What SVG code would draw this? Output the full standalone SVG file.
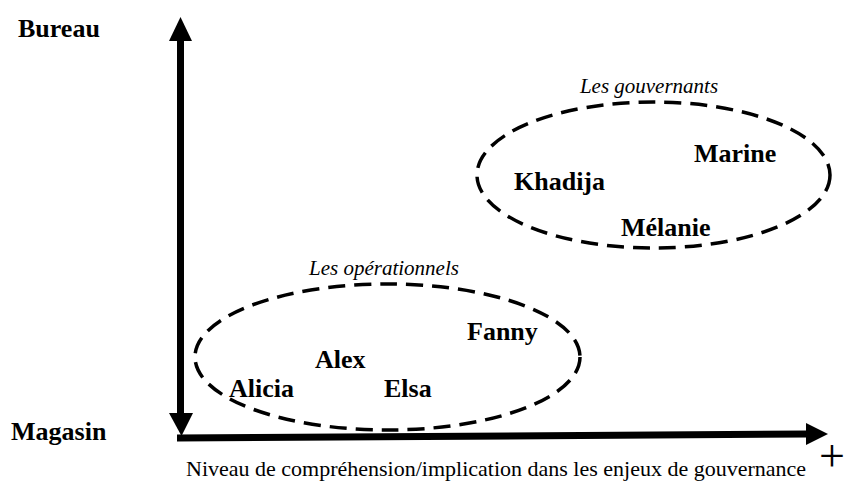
<svg xmlns="http://www.w3.org/2000/svg" width="847" height="482" viewBox="0 0 847 482">
<style>
.ax{stroke:#000;stroke-width:7;fill:none}
.head{fill:#000}
.grp{fill:none;stroke:#000;stroke-width:3.5;stroke-dasharray:17 9}
.lbl{font-family:"Liberation Serif","Times New Roman",serif;font-weight:bold;font-size:26px;fill:#000}
.cap{font-family:"Liberation Serif","Times New Roman",serif;font-style:italic;font-size:21px;fill:#000}
.axt{font-family:"Liberation Serif","Times New Roman",serif;font-size:22px;fill:#000}
.plus{font-family:"Liberation Serif","Times New Roman",serif;font-size:46px;fill:#000}
</style>
<rect width="847" height="482" fill="#fff"/>
<g id="connectors">
  <line class="ax" x1="180.5" y1="38" x2="180.5" y2="416"/>
  <polygon class="head" points="180.5,17 169,41 192,41"/>
  <polygon class="head" points="181.5,436 169,413 193,413"/>
  <line class="ax" x1="177" y1="438" x2="808" y2="434"/>
  <polygon class="head" points="828,434 806,423 806,445"/>
</g>
<g id="axis-labels">
  <text class="lbl" x="18" y="37">Bureau</text>
  <text class="lbl" x="11" y="440">Magasin</text>
  <text class="axt" x="186" y="476">Niveau de compréhension/implication dans les enjeux de gouvernance</text>
  <text class="plus" x="832" y="471" text-anchor="middle">+</text>
</g>
<g id="gouvernants">
  <ellipse class="grp" cx="653.5" cy="175" rx="176.5" ry="73"/>
  <text class="cap" x="649" y="93" text-anchor="middle">Les gouvernants</text>
</g>
<g id="operationnels">
  <ellipse class="grp" cx="387.5" cy="357" rx="192.5" ry="73"/>
  <text class="cap" x="384" y="275" text-anchor="middle">Les opérationnels</text>
</g>
<g id="marine"><text class="lbl" x="694" y="162">Marine</text></g>
<g id="khadija"><text class="lbl" x="514" y="190">Khadija</text></g>
<g id="melanie"><text class="lbl" x="621" y="236">Mélanie</text></g>
<g id="fanny"><text class="lbl" x="467" y="340">Fanny</text></g>
<g id="alex"><text class="lbl" x="315" y="368">Alex</text></g>
<g id="alicia"><text class="lbl" x="229" y="397">Alicia</text></g>
<g id="elsa"><text class="lbl" x="384" y="397">Elsa</text></g>
</svg>
